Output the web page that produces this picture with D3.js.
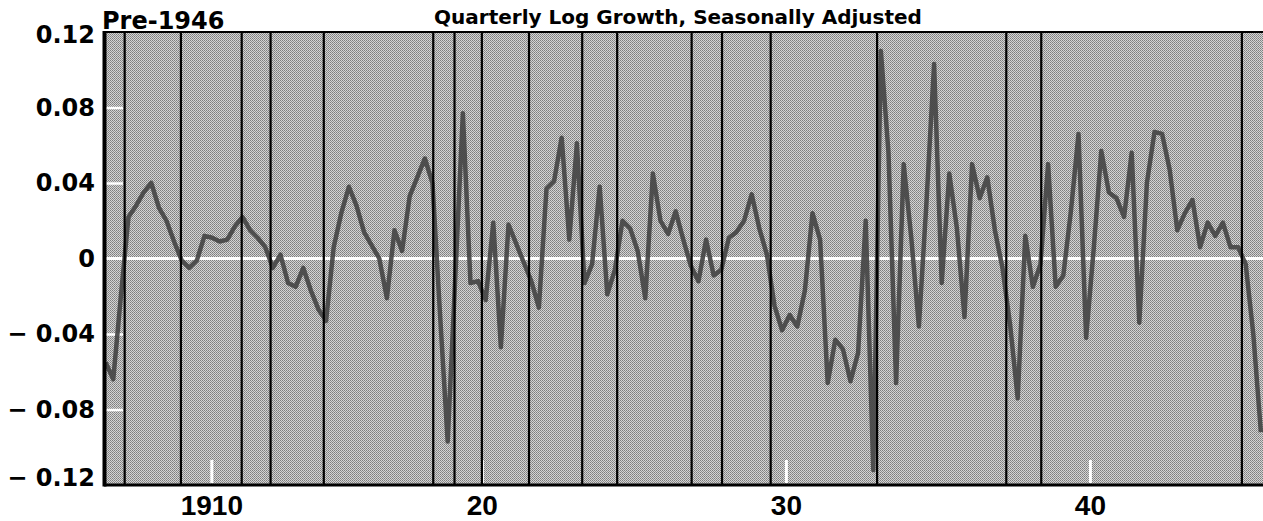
<!DOCTYPE html>
<html>
<head>
<meta charset="utf-8">
<script src="https://cdn.jsdelivr.net/npm/d3@7"></script>
<style>
  body { margin: 0; background: #fff; }
  svg { display: block; }
</style>
</head>
<body>
<div id="chart"></div>
<script>
// Pre-1946 quarterly log growth, seasonally adjusted

// Part I. Data

// first value is 1907 Q3, then one value per quarter
var startYear = 1907.5;
var growth = [
  -0.055, -0.064, -0.020, 0.022, 0.028, 0.035, 0.040, 0.027, 0.020, 0.009,
  -0.001, -0.005, -0.001, 0.012, 0.011, 0.009, 0.010, 0.017, 0.022, 0.015,
  0.011, 0.006, -0.005, 0.002, -0.013, -0.015, -0.005, -0.017, -0.027, -0.033,
  0.006, 0.024, 0.038, 0.028, 0.014, 0.007, 0.000, -0.021, 0.015, 0.004,
  0.033, 0.043, 0.053, 0.040, -0.030, -0.097, -0.010, 0.077, -0.013, -0.012,
  -0.022, 0.019, -0.047, 0.018, 0.008, -0.002, -0.012, -0.026, 0.037, 0.041,
  0.064, 0.010, 0.061, -0.013, -0.003, 0.038, -0.019, -0.006, 0.020, 0.016,
  0.004, -0.021, 0.045, 0.020, 0.013, 0.025, 0.010, -0.004, -0.012, 0.010,
  -0.009, -0.006, 0.011, 0.014, 0.020, 0.034, 0.016, 0.002, -0.025, -0.038,
  -0.030, -0.036, -0.017, 0.024, 0.010, -0.066, -0.043, -0.048, -0.065, -0.050,
  0.020, -0.112, 0.110, 0.056, -0.066, 0.050, 0.011, -0.036, 0.030, 0.103,
  -0.013, 0.045, 0.016, -0.031, 0.050, 0.032, 0.043, 0.015, -0.005, -0.035,
  -0.074, 0.012, -0.015, -0.003, 0.050, -0.015, -0.009, 0.025, 0.066, -0.042,
  0.005, 0.057, 0.035, 0.032, 0.022, 0.056, -0.034, 0.040, 0.067, 0.066,
  0.047, 0.015, 0.024, 0.031, 0.006, 0.019, 0.012, 0.019, 0.006, 0.006,
  -0.003, -0.040, -0.092
];

// business cycle peaks and troughs (decimal years)
var cycleDates = [1908.25, 1910.1, 1912.1, 1913.05, 1914.8, 1918.4, 1919.1, 1920.0,
  1921.55, 1923.3, 1924.45, 1926.9, 1927.9, 1929.5, 1933.0, 1937.25, 1938.4, 1945.0];

var yTicks = [0.12, 0.08, 0.04, 0, -0.04, -0.08, -0.12];
var yTickLabels = ["0.12", "0.08", "0.04", "0", "\u2212 0.04", "\u2212 0.08", "\u2212 0.12"];
var yInnerTicks = [0.08, 0.04, -0.04, -0.08];
var xTicks = [1911.1, 1920, 1930, 1940];
var xTickLabels = ["1910", "20", "30", "40"];

var title = "Quarterly Log Growth, Seasonally Adjusted";
var subtitle = "Pre-1946";

// Part II. Chart frame

var margin = {top: 32, bottom: 36, left: 104, right: -2};
var svgWidth = 1263;
var svgHeight = 521;
var width = svgWidth - margin.left - margin.right;
var height = svgHeight - margin.top - margin.bottom;

var svg = d3.select("#chart")
    .append("svg")
    .attr("width", svgWidth)
    .attr("height", svgHeight);

var defs = svg.append("defs");

// halftone-ish grey texture
var pattern = defs.append("pattern")
    .attr("id", "dither")
    .attr("width", 2)
    .attr("height", 2)
    .attr("patternUnits", "userSpaceOnUse");
pattern.append("rect").attr("width", 2).attr("height", 2).attr("fill", "#d4d4d4");
pattern.append("rect").attr("width", 1).attr("height", 1).attr("fill", "#7e7e7e");
pattern.append("rect").attr("x", 1).attr("y", 1).attr("width", 1).attr("height", 1).attr("fill", "#909090");

defs.append("clipPath")
    .attr("id", "plotClip")
    .append("rect")
    .attr("width", width)
    .attr("height", height);

var chartGroup = svg.append("g")
    .attr("transform", "translate(" + margin.left + "," + margin.top + ")");

var xScale = d3.scaleLinear()
    .domain([1907.57, 1945.76])
    .range([0, width]);

var yScale = d3.scaleLinear()
    .domain([-0.12, 0.12])
    .range([height, 0]);

chartGroup.append("rect")
    .attr("width", width)
    .attr("height", height)
    .attr("fill", "url(#dither)");

// white inner ticks
chartGroup.append("g")
    .attr("class", "innerX")
    .attr("transform", "translate(0," + (height - 2) + ")")
    .call(d3.axisBottom(xScale).tickValues(xTicks).tickSize(-23).tickFormat(""))
    .call(g => g.select(".domain").remove())
    .call(g => g.selectAll("line").attr("stroke", "#fff").attr("stroke-width", 3));

chartGroup.append("g")
    .attr("class", "innerY")
    .attr("transform", "translate(2,0)")
    .call(d3.axisLeft(yScale).tickValues(yInnerTicks).tickSize(-17).tickFormat(""))
    .call(g => g.select(".domain").remove())
    .call(g => g.selectAll("line").attr("stroke", "#fff").attr("stroke-width", 2.5));

// zero line
chartGroup.append("line")
    .attr("x1", 0)
    .attr("x2", width)
    .attr("y1", yScale(0))
    .attr("y2", yScale(0))
    .attr("stroke", "#fff")
    .attr("stroke-width", 3);

// Part III. The series

var points = growth.map((v, i) => ({t: startYear + (i + 0.5) / 4, v: v}));

var line = d3.line()
    .x(d => xScale(d.t))
    .y(d => yScale(d.v));

chartGroup.append("path")
    .datum(points)
    .attr("clip-path", "url(#plotClip)")
    .attr("d", line)
    .attr("fill", "none")
    .attr("stroke", "#454545")
    .attr("stroke-width", 4.5)
    .attr("stroke-linejoin", "round")
    .attr("opacity", 0.92);

// recession markers
chartGroup.selectAll(".cycle")
    .data(cycleDates)
    .enter()
    .append("line")
    .attr("class", "cycle")
    .attr("x1", d => xScale(d))
    .attr("x2", d => xScale(d))
    .attr("y1", 0)
    .attr("y2", height)
    .attr("stroke", "#000")
    .attr("stroke-width", 2.2);

// frame: left, top, bottom
chartGroup.append("line")
    .attr("x1", 0.5).attr("x2", 0.5)
    .attr("y1", -1).attr("y2", height + 1.5)
    .attr("stroke", "#000").attr("stroke-width", 4);
chartGroup.append("line")
    .attr("x1", 0).attr("x2", width)
    .attr("y1", 0).attr("y2", 0)
    .attr("stroke", "#000").attr("stroke-width", 2);
chartGroup.append("line")
    .attr("x1", 0).attr("x2", width)
    .attr("y1", height).attr("y2", height)
    .attr("stroke", "#000").attr("stroke-width", 3);

// Part IV. Axes and text

var yAxisGroup = chartGroup.append("g")
    .attr("class", "y")
    .call(d3.axisLeft(yScale).tickValues(yTicks).tickSize(0).tickPadding(9)
        .tickFormat((d, i) => yTickLabels[i]))
    .call(g => g.select(".domain").remove());

yAxisGroup.selectAll("text")
    .attr("font-family", "DejaVu Sans, sans-serif")
    .attr("font-weight", "bold")
    .attr("font-size", "24px")
    .attr("fill", "#000");

// end labels sit slightly inside the frame
yAxisGroup.selectAll(".tick text")
    .filter(d => d === 0.12)
    .attr("dy", "0.42em");
yAxisGroup.selectAll(".tick text")
    .filter(d => d === -0.12)
    .attr("dy", "0.02em");

chartGroup.append("g")
    .attr("class", "x")
    .attr("transform", "translate(0," + height + ")")
    .call(d3.axisBottom(xScale).tickValues(xTicks).tickSize(0).tickPadding(10)
        .tickFormat((d, i) => xTickLabels[i]))
    .call(g => g.select(".domain").remove())
    .selectAll("text")
    .attr("font-family", "Liberation Sans, Arial, sans-serif")
    .attr("font-weight", "bold")
    .attr("font-size", "28px")
    .attr("fill", "#000");

svg.append("text")
    .attr("x", 102)
    .attr("y", 29)
    .attr("font-family", "DejaVu Sans, sans-serif")
    .attr("font-weight", "bold")
    .attr("font-size", "24px")
    .attr("fill", "#000")
    .text(subtitle);

svg.append("text")
    .attr("x", 678)
    .attr("y", 24)
    .attr("text-anchor", "middle")
    .attr("font-family", "DejaVu Sans, sans-serif")
    .attr("font-weight", "bold")
    .attr("font-size", "20px")
    .attr("fill", "#000")
    .text(title);
</script>
</body>
</html>
